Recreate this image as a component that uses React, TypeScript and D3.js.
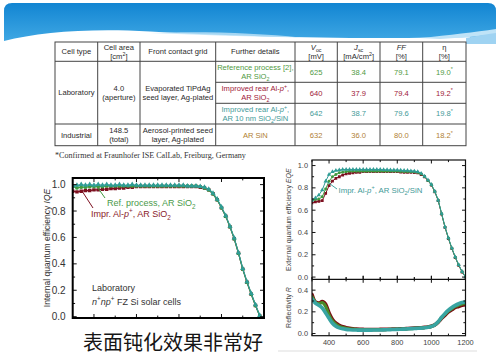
import * as d3 from "d3";

// wavelength grid (nm) shared by all curves
const wavelength = [
  300, 320, 340, 360, 380, 400, 420, 440, 460, 480,
  500, 520, 540, 560, 580, 600, 620, 640, 660, 680,
  700, 720, 740, 760, 780, 800, 820, 840, 860, 880,
  900, 920, 940, 960, 980, 1000, 1020, 1040, 1060, 1080,
  1100, 1120, 1140, 1160, 1180, 1200,
];

// internal quantum efficiency
const iqeRef = [
  0.985, 0.975, 0.98, 0.98, 0.985, 0.985, 0.985, 0.985, 0.99, 0.99,
  0.99, 0.99, 0.99, 0.99, 0.99, 0.99, 0.99, 0.99, 0.99, 0.99,
  0.99, 0.99, 0.99, 0.99, 0.99, 0.99, 0.99, 0.99, 0.99, 0.99,
  0.985, 0.975, 0.96, 0.93, 0.885, 0.825, 0.76, 0.68, 0.59, 0.48,
  0.36, 0.26, 0.17, 0.085, 0.005, -0.03,
];
const iqeAlp = [
  0.95, 0.945, 0.95, 0.955, 0.955, 0.96, 0.96, 0.965, 0.965, 0.97,
  0.97, 0.975, 0.975, 0.98, 0.98, 0.985, 0.985, 0.985, 0.985, 0.985,
  0.985, 0.985, 0.985, 0.985, 0.985, 0.985, 0.985, 0.985, 0.985, 0.985,
  0.98, 0.975, 0.96, 0.93, 0.885, 0.825, 0.76, 0.68, 0.59, 0.48,
  0.36, 0.26, 0.17, 0.085, 0.005, -0.03,
];
const iqeSiN = [
  0.99, 0.995, 1.0, 0.995, 1.0, 0.995, 1.0, 0.995, 1.0, 0.995,
  0.995, 1.0, 0.995, 0.995, 1.0, 0.995, 0.995, 0.995, 0.995, 0.995,
  0.995, 0.995, 0.995, 0.995, 0.995, 0.995, 0.995, 0.99, 0.99, 0.99,
  0.985, 0.98, 0.965, 0.935, 0.89, 0.83, 0.765, 0.685, 0.595, 0.485,
  0.365, 0.265, 0.175, 0.09, 0.01, -0.03,
];

// external quantum efficiency
const eqeRef = [
  0.69, 0.695, 0.7, 0.72, 0.79, 0.86, 0.9, 0.92, 0.935, 0.94,
  0.945, 0.948, 0.95, 0.95, 0.95, 0.95, 0.95, 0.95, 0.95, 0.95,
  0.95, 0.95, 0.95, 0.95, 0.948, 0.948, 0.946, 0.945, 0.945, 0.944,
  0.942, 0.938, 0.925, 0.902, 0.867, 0.828, 0.768, 0.688, 0.568, 0.448,
  0.348, 0.258, 0.178, 0.108, 0.048, 0.0,
];
const eqeAlp = [
  0.665, 0.675, 0.68, 0.685, 0.75, 0.82, 0.86, 0.885, 0.9, 0.915,
  0.925, 0.93, 0.935, 0.94, 0.94, 0.945, 0.945, 0.945, 0.945, 0.945,
  0.945, 0.945, 0.945, 0.945, 0.945, 0.945, 0.942, 0.94, 0.94, 0.94,
  0.938, 0.935, 0.92, 0.9, 0.865, 0.825, 0.765, 0.685, 0.565, 0.445,
  0.345, 0.255, 0.175, 0.105, 0.045, 0.0,
];
const eqeSiN = [
  0.69, 0.71, 0.735, 0.78, 0.86, 0.92, 0.945, 0.955, 0.96, 0.965,
  0.965, 0.965, 0.965, 0.965, 0.965, 0.965, 0.965, 0.965, 0.965, 0.965,
  0.965, 0.962, 0.962, 0.96, 0.96, 0.96, 0.958, 0.955, 0.955, 0.952,
  0.95, 0.945, 0.93, 0.905, 0.87, 0.83, 0.77, 0.69, 0.57, 0.45,
  0.35, 0.26, 0.18, 0.11, 0.05, 0.0,
];

// reflectivity
const reflRef = [
  0.34, 0.29, 0.275, 0.285, 0.25, 0.17, 0.115, 0.085, 0.066, 0.055,
  0.048, 0.043, 0.04, 0.038, 0.036, 0.035, 0.035, 0.035, 0.035, 0.035,
  0.036, 0.036, 0.037, 0.038, 0.039, 0.04, 0.041, 0.042, 0.044, 0.046,
  0.048, 0.05, 0.052, 0.055, 0.059, 0.066, 0.08, 0.108, 0.145, 0.178,
  0.208, 0.23, 0.25, 0.262, 0.272, 0.278,
];
const reflAlp = [
  0.36, 0.29, 0.28, 0.295, 0.27, 0.19, 0.13, 0.095, 0.075, 0.062,
  0.054, 0.048, 0.044, 0.041, 0.039, 0.038, 0.037, 0.037, 0.037, 0.037,
  0.038, 0.038, 0.039, 0.04, 0.041, 0.042, 0.043, 0.044, 0.046, 0.048,
  0.05, 0.052, 0.054, 0.057, 0.061, 0.068, 0.08, 0.105, 0.14, 0.17,
  0.2, 0.22, 0.24, 0.25, 0.26, 0.265,
];
const reflSiN = [
  0.32, 0.28, 0.26, 0.235, 0.19, 0.14, 0.095, 0.068, 0.052, 0.043,
  0.038, 0.035, 0.033, 0.032, 0.031, 0.031, 0.031, 0.031, 0.032, 0.032,
  0.033, 0.034, 0.035, 0.036, 0.037, 0.038, 0.04, 0.041, 0.043, 0.045,
  0.046, 0.048, 0.05, 0.053, 0.057, 0.065, 0.08, 0.11, 0.15, 0.185,
  0.215, 0.24, 0.26, 0.275, 0.285, 0.29,
];

// table
const headers = [
  ["Cell type"],
  ["Cell area", "[cm^2^]"],
  ["Front contact grid"],
  ["Further details"],
  ["_V_~oc~", "[mV]"],
  ["_J_~sc~", "[mA/cm^2^]"],
  ["_FF_", "[%]"],
  ["η", "[%]"],
];
const furtherDetails = [
  ["Reference process [2],", "AR SiO~2~"],
  ["Improved rear Al-_p_^+^,", "AR SiO~2~"],
  ["Improved rear Al-_p_^+^,", "AR 10 nm SiO~2~/SiN"],
  ["AR SiN"],
];
const voc = [625, 640, 642, 632];
const jsc = [38.4, 37.9, 38.7, 36.0];
const ff = [79.1, 79.4, 79.6, 80.0];
const eta = [19.0, 19.2, 19.8, 18.2];

const rowColors = ["#4f9a3f", "#a02038", "#3f9a98", "#b08034"];
const SANS = "'Liberation Sans', Arial, sans-serif";
const INK = "#2a2a2a";

type Seg = { t: string; i?: boolean; sup?: boolean; sub?: boolean };
const parse = (s: string): Seg[] => {
  const out: Seg[] = [];
  const re = /_([^_]+)_|\^([^^]+)\^|~([^~]+)~|([^_^~]+)/g;
  let m: RegExpExecArray | null;
  while ((m = re.exec(s))) {
    if (m[1]) out.push({ t: m[1], i: true });
    else if (m[2]) out.push({ t: m[2], sup: true });
    else if (m[3]) out.push({ t: m[3], sub: true });
    else out.push({ t: m[4] });
  }
  return out;
};

const Rich = ({ x = 0, y = 0, s, size, fill = INK, anchor = "start", family = SANS }: any) => {
  let cur = 0;
  return (
    <text x={x} y={y} fontSize={size} fill={fill} textAnchor={anchor} fontFamily={family}>
      {parse(s).map((g, k) => {
        const tgt = g.sup ? -0.4 * size : g.sub ? 0.28 * size : 0;
        const dy = tgt - cur;
        cur = tgt;
        return (
          <tspan key={k} dy={dy || undefined} fontSize={g.sup || g.sub ? size * 0.7 : undefined}
            fontStyle={g.i ? "italic" : undefined}>{g.t}</tspan>
        );
      })}
    </text>
  );
};

const colsX = [55, 97.7, 140, 215.7, 295, 337.3, 380, 422.7, 466];
const rowsY = [42, 61.3, 82.3, 103.3, 124, 145.7];

const Cell = ({ c, r0, r1, lines, fill = INK }: any) => {
  const cx = (colsX[c] + colsX[c + 1]) / 2;
  const cy = (rowsY[r0] + rowsY[r1]) / 2;
  return (
    <g>
      {lines.map((l: string, k: number) => (
        <Rich key={k} x={cx} y={cy + (k - (lines.length - 1) / 2) * 9 + 2.7} s={l} size={7.6} fill={fill} anchor="middle" />
      ))}
    </g>
  );
};

const Table = () => (
  <g>
    <rect x={colsX[0]} y={rowsY[0]} width={colsX[8] - colsX[0]} height={rowsY[5] - rowsY[0]} fill="#fff" stroke="#444" strokeWidth={1} />
    {colsX.slice(1, 8).map((x, i) => (
      <line key={i} x1={x} x2={x} y1={rowsY[0]} y2={rowsY[5]} stroke="#444" />
    ))}
    <line x1={colsX[0]} x2={colsX[8]} y1={rowsY[1]} y2={rowsY[1]} stroke="#444" />
    <line x1={colsX[0]} x2={colsX[8]} y1={rowsY[4]} y2={rowsY[4]} stroke="#444" />
    <line x1={colsX[3]} x2={colsX[8]} y1={rowsY[2]} y2={rowsY[2]} stroke="#444" />
    <line x1={colsX[3]} x2={colsX[8]} y1={rowsY[3]} y2={rowsY[3]} stroke="#444" />
    {headers.map((h, i) => <Cell key={i} c={i} r0={0} r1={1} lines={h} />)}
    <Cell c={0} r0={1} r1={4} lines={["Laboratory"]} />
    <Cell c={1} r0={1} r1={4} lines={["4.0", "(aperture)"]} />
    <Cell c={2} r0={1} r1={4} lines={["Evaporated TiPdAg", "seed layer, Ag-plated"]} />
    <Cell c={0} r0={4} r1={5} lines={["Industrial"]} />
    <Cell c={1} r0={4} r1={5} lines={["148.5", "(total)"]} />
    <Cell c={2} r0={4} r1={5} lines={["Aerosol-printed seed", "layer, Ag-plated"]} />
    {furtherDetails.map((fd, r) => (
      <g key={r}>
        <Cell c={3} r0={r + 1} r1={r + 2} lines={fd} fill={rowColors[r]} />
        <Cell c={4} r0={r + 1} r1={r + 2} lines={[String(voc[r])]} fill={rowColors[r]} />
        <Cell c={5} r0={r + 1} r1={r + 2} lines={[jsc[r].toFixed(1)]} fill={rowColors[r]} />
        <Cell c={6} r0={r + 1} r1={r + 2} lines={[ff[r].toFixed(1)]} fill={rowColors[r]} />
        <Cell c={7} r0={r + 1} r1={r + 2} lines={[`${eta[r].toFixed(1)}^*^`]} fill={rowColors[r]} />
      </g>
    ))}
  </g>
);

const COL = { ref: "#3f9a3f", alp: "#7d1020", sin: "#2f9c95" };
const pts = (vals: number[]) => wavelength.map((w, i) => [w, vals[i]] as [number, number]);

const Series = ({ x, y, vals, color, sym, size, lw }: any) => {
  const line = d3.line<[number, number]>().x((d) => x(d[0])).y((d) => y(d[1]));
  const shape = d3.symbol().type(sym).size(size)() || "";
  return (
    <g>
      <path d={line(pts(vals)) || ""} fill="none" stroke={color} strokeWidth={lw} />
      {pts(vals).map((d, i) => (
        <path key={i} d={shape} transform={`translate(${x(d[0])},${y(d[1])})`} fill={color} />
      ))}
    </g>
  );
};

const Ticks = ({ x, y, xMaj, xMin, yMaj, yMin, x0, x1, y0, y1, len, both }: any) => (
  <g stroke="#111" strokeWidth={1}>
    {xMaj.map((v: number) => [v, len]).concat(xMin.map((v: number) => [v, len * 0.6])).map(([v, l]: number[], i: number) => (
      <g key={"x" + i}>
        <line x1={x(v)} x2={x(v)} y1={y0} y2={y0 - l} />
        <line x1={x(v)} x2={x(v)} y1={y1} y2={both ? y1 - l : y1 + l} />
        {both && <line x1={x(v)} x2={x(v)} y1={y1} y2={y1 + l} />}
      </g>
    ))}
    {yMaj.map((v: number) => [v, len]).concat(yMin.map((v: number) => [v, len * 0.6])).map(([v, l]: number[], i: number) => (
      <g key={"y" + i}>
        <line x1={x0} x2={x0 + l} y1={y(v)} y2={y(v)} />
        <line x1={x1} x2={x1 - l} y1={y(v)} y2={y(v)} />
      </g>
    ))}
  </g>
);

const LeftChart = () => {
  const x = d3.scaleLinear().domain([300, 1200]).range([72.7, 264]);
  const y = d3.scaleLinear().domain([-0.01, 1.05]).range([318, 178]);
  const [x0, x1] = x.range();
  const [y0, y1] = y.range();
  return (
    <g>
      <defs>
        <clipPath id="clipL"><rect x={x0} y={y1} width={x1 - x0} height={y0 - y1} /></clipPath>
      </defs>
      <g clipPath="url(#clipL)">
        <Series x={x} y={y} vals={iqeAlp} color={COL.alp} sym={d3.symbolSquare} size={12} lw={1.2} />
        <Series x={x} y={y} vals={iqeRef} color={COL.ref} sym={d3.symbolCircle} size={11} lw={1.2} />
        <Series x={x} y={y} vals={iqeSiN} color={COL.sin} sym={d3.symbolTriangle} size={12} lw={1.2} />
      </g>
      <Ticks x={x} y={y} x0={x0} x1={x1} y0={y0} y1={y1} len={4}
        xMaj={[400, 600, 800, 1000]} xMin={[500, 700, 900, 1100]}
        yMaj={[0, 0.2, 0.4, 0.6, 0.8, 1.0]} yMin={[0.1, 0.3, 0.5, 0.7, 0.9]} />
      <rect x={x0} y={y1} width={x1 - x0} height={y0 - y1} fill="none" stroke="#000" strokeWidth={2} />
      {[0, 0.2, 0.4, 0.6, 0.8, 1.0].map((v) => (
        <text key={v} x={x0 - 7} y={y(v) + 3.5} fontSize={10} fill="#333" textAnchor="end" fontFamily={SANS}>{v.toFixed(1)}</text>
      ))}
      <g transform={`translate(50,${(y0 + y1) / 2}) rotate(-90)`}>
        <Rich s="Internal quantum efficiency _IQE_" size={8.5} fill="#333" anchor="middle" />
      </g>
      <line x1={98} y1={188} x2={105} y2={198} stroke={COL.ref} strokeWidth={1} />
      <Rich x={107} y={206} s="Ref. process, AR SiO~2~" size={9} fill="#4a9a4a" />
      <line x1={82} y1={191} x2={93} y2={208} stroke={COL.alp} strokeWidth={1} />
      <Rich x={91} y={217} s="Impr. Al-_p_^+^, AR SiO~2~" size={9} fill="#8a1a2a" />
      <Rich x={92} y={291} s="Laboratory" size={9} fill="#333" />
      <Rich x={92} y={305} s="_n_^+^_np_^+^ FZ Si solar cells" size={9} fill="#333" />
    </g>
  );
};

const RightChart = () => {
  const x = d3.scaleLinear().domain([300, 1200]).range([312, 465.5]);
  const yE = d3.scaleLinear().domain([-0.02, 1.05]).range([279.3, 160]);
  const yR = d3.scaleLinear().domain([-0.02, 0.5]).range([335.7, 279.3]);
  const [x0, x1] = x.range();
  const xt = [400, 600, 800, 1000, 1200];
  return (
    <g>
      <defs>
        <clipPath id="clipE"><rect x={x0} y={160} width={x1 - x0} height={119.3} /></clipPath>
        <clipPath id="clipR"><rect x={x0} y={279.3} width={x1 - x0} height={56.4} /></clipPath>
      </defs>
      <g clipPath="url(#clipE)">
        <Series x={x} y={yE} vals={eqeAlp} color={COL.alp} sym={d3.symbolSquare} size={8} lw={1} />
        <Series x={x} y={yE} vals={eqeRef} color={COL.ref} sym={d3.symbolCircle} size={7} lw={1} />
        <Series x={x} y={yE} vals={eqeSiN} color={COL.sin} sym={d3.symbolTriangle} size={8} lw={1} />
      </g>
      <g clipPath="url(#clipR)" fill="none" strokeLinecap="round">
        <path d={d3.line<[number, number]>().x((d) => x(d[0])).y((d) => yR(d[1])).curve(d3.curveMonotoneX)(pts(reflAlp)) || ""} stroke="#7a0c12" strokeWidth={3.6} />
        <path d={d3.line<[number, number]>().x((d) => x(d[0])).y((d) => yR(d[1])).curve(d3.curveMonotoneX)(pts(reflRef)) || ""} stroke="#4a8a2a" strokeWidth={3.2} />
        <path d={d3.line<[number, number]>().x((d) => x(d[0])).y((d) => yR(d[1])).curve(d3.curveMonotoneX)(pts(reflSiN)) || ""} stroke="#38a4a2" strokeWidth={3.6} />
      </g>
      <Ticks x={x} y={yE} x0={x0} x1={x1} y0={279.3} y1={160} len={3.5}
        xMaj={xt} xMin={[300, 500, 700, 900, 1100]}
        yMaj={[0, 0.2, 0.4, 0.6, 0.8, 1.0]} yMin={[0.1, 0.3, 0.5, 0.7, 0.9]} />
      <Ticks x={x} y={yR} x0={x0} x1={x1} y0={335.7} y1={279.3} len={3.5} both
        xMaj={xt} xMin={[300, 500, 700, 900, 1100]}
        yMaj={[0, 0.2, 0.4]} yMin={[0.1, 0.3]} />
      <rect x={x0} y={160} width={x1 - x0} height={175.7} fill="none" stroke="#111" strokeWidth={1.2} />
      <line x1={x0} x2={x1} y1={279.3} y2={279.3} stroke="#111" strokeWidth={1.2} />
      {[0, 0.2, 0.4, 0.6, 0.8, 1.0].map((v) => (
        <text key={v} x={x0 - 4} y={yE(v) + 2.6} fontSize={7.4} fill="#444" textAnchor="end" fontFamily={SANS}>{v.toFixed(1)}</text>
      ))}
      {[0, 0.2, 0.4].map((v) => (
        <text key={v} x={x0 - 4} y={yR(v) + 2.6} fontSize={7.4} fill="#444" textAnchor="end" fontFamily={SANS}>{v.toFixed(1)}</text>
      ))}
      {xt.map((v) => (
        <text key={v} x={x(v)} y={345} fontSize={7.4} fill="#444" textAnchor="middle" fontFamily={SANS}>{v}</text>
      ))}
      <g transform={`translate(290.5,${(160 + 279.3) / 2}) rotate(-90)`}>
        <Rich s="External quantum efficiency _EQE_" size={7} fill="#444" anchor="middle" />
      </g>
      <g transform={`translate(290.5,${(279.3 + 335.7) / 2}) rotate(-90)`}>
        <Rich s="Reflectivity _R_" size={7} fill="#444" anchor="middle" />
      </g>
      <line x1={326} y1={181} x2={337} y2={189} stroke={COL.sin} strokeWidth={0.9} />
      <Rich x={338.5} y={192.5} s="Impr. Al-_p_^+^, AR SiO~2~/SiN" size={7.8} fill="#3f9a98" />
    </g>
  );
};

const Header = () => (
  <g>
    <defs>
      <linearGradient id="hdr" x1="0" y1="0" x2="0" y2="1">
        <stop offset="0" stopColor="#1285d2" />
        <stop offset="1" stopColor="#45ace6" />
      </linearGradient>
    </defs>
    <path d="M4,46 L4,11 Q4,3 12,3 L488,3 Q496,3 496,11 L496,46 Z" fill="url(#hdr)" />
    <path d="M4,48 L4,41 C40,32 90,28 150,31.5 C220,35.5 300,38 380,38 C420,38 450,37.5 470,37 L470,48 Z" fill="#fff" />
    <path d="M150,33 C200,31 260,33 300,37.5 C250,36.5 200,35 150,33 Z" fill="#bfe3f7" opacity={0.8} />
    <path d="M420,38 C450,35 475,32 496,29 L496,34 C480,36 460,38 440,39 Z" fill="#bfe3f7" />
    <path d="M466,38 C476,36 486,34 496,33 L496,48 L466,48 Z" fill="#9fd3f2" />
    <rect x={4} y={44} width={492} height={6} fill="#fff" />
  </g>
);

export default function App() {
  return (
    <svg width={500} height={364} style={{ position: "absolute", left: 0, top: 0, background: "#fff" }}>
      <rect width={500} height={364} fill="#fff" />
      <Header />
      <Table />
      <text x={55} y={158} fontSize={8.1} fill="#333" fontFamily="'Liberation Serif', serif">*Confirmed at Fraunhofer ISE CalLab, Freiburg, Germany</text>
      <LeftChart />
      <RightChart />
      <line x1={278} x2={477} y1={351} y2={351} stroke="#ddd" strokeWidth={1} />
      <text x={83} y={350} fontSize={20} fill="#151515" fontFamily="'Noto Sans CJK SC', sans-serif">表面钝化效果非常好</text>
    </svg>
  );
}
